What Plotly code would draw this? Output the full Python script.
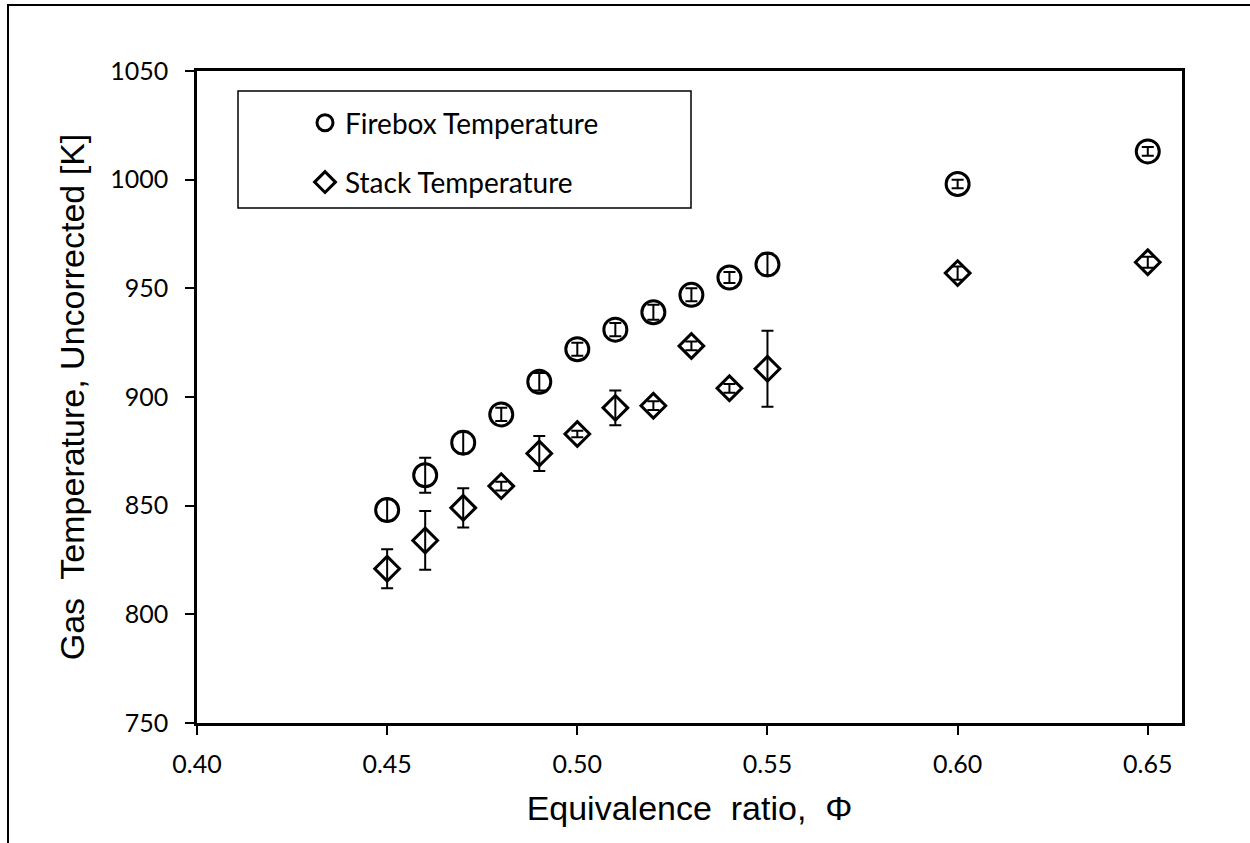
import plotly.graph_objects as go

phi = [0.45, 0.46, 0.47, 0.48, 0.49, 0.50, 0.51, 0.52, 0.53, 0.54, 0.55, 0.60, 0.65]
firebox = [848, 864, 879, 892, 907, 922, 931, 939, 947, 955, 961, 998, 1013]
firebox_err = [5, 8, 5, 3, 4, 3, 3, 3.5, 3, 2.5, 5, 2, 2]
stack = [821, 834, 849, 859, 874, 883, 895, 896, 923.5, 904, 913, 957, 962]
stack_err = [9, 13.5, 9, 2, 8, 1.5, 8, 2, 2, 2, 17.5, 3, 2.5]

x_ticks = [0.40, 0.45, 0.50, 0.55, 0.60, 0.65]
y_ticks = [750, 800, 850, 900, 950, 1000, 1050]

tick_font = dict(family="Lato, Open Sans, sans-serif", size=25, color="black")
title_font = dict(family="Liberation Sans, Arial, sans-serif", size=34, color="black")

fig = go.Figure()
fig.add_trace(go.Scatter(
    x=phi, y=firebox, mode="markers", name="Firebox Temperature",
    legendgroup="a",
    marker=dict(symbol="circle", size=23, color="rgba(0,0,0,0)",
                line=dict(color="black", width=3)),
    error_y=dict(type="data", array=firebox_err, visible=True,
                 color="black", thickness=2, width=6),
))
fig.add_trace(go.Scatter(
    x=phi, y=stack, mode="markers", name="Stack Temperature",
    legendgroup="b",
    marker=dict(symbol="diamond", size=19, color="rgba(0,0,0,0)",
                line=dict(color="black", width=3)),
    error_y=dict(type="data", array=stack_err, visible=True,
                 color="black", thickness=2, width=6),
))

L, R, T, B = 197, 68, 71, 120
W, H = 1250, 843
pw, ph = W - L - R, H - T - B

def px(x):
    return (x - L) / pw

def py(y):
    return 1 - (y - T) / ph

fig.update_layout(
    width=W, height=H,
    margin=dict(l=L, r=R, t=T, b=B),
    paper_bgcolor="white", plot_bgcolor="white",
    showlegend=True,
    legend=dict(
        x=px(305), y=py(98), xanchor="left", yanchor="top",
        bgcolor="rgba(0,0,0,0)", borderwidth=0,
        font=dict(family="Lato, Open Sans, sans-serif", size=28, color="black"),
        tracegroupgap=20,
    ),
    shapes=[
        dict(type="rect", xref="paper", yref="paper",
             x0=px(238), x1=px(691), y0=py(208), y1=py(91),
             line=dict(color="black", width=1.5), fillcolor="rgba(0,0,0,0)"),
        dict(type="rect", xref="paper", yref="paper",
             x0=px(8), x1=px(1300), y0=py(900), y1=py(5),
             line=dict(color="black", width=2), fillcolor="rgba(0,0,0,0)"),
    ],
)

fig.update_xaxes(
    range=[0.40, 0.659], tickvals=x_ticks, ticktext=[f"{v:.2f}" for v in x_ticks],
    showgrid=False, zeroline=False,
    showline=True, linecolor="black", linewidth=2.5, mirror=True,
    ticks="outside", ticklen=9, tickwidth=1.5, tickcolor="black",
    tickfont=tick_font, ticklabelstandoff=8,
    title=dict(text="Equivalence\u00a0 ratio,\u00a0 Φ", font=title_font, standoff=20),
)
fig.update_yaxes(
    range=[750, 1050], tickvals=y_ticks,
    showgrid=False, zeroline=False,
    showline=True, linecolor="black", linewidth=2.5, mirror=True,
    ticks="outside", ticklen=9, tickwidth=1.5, tickcolor="black",
    tickfont=tick_font, ticklabelstandoff=12,
    title=dict(text="Gas\u00a0 Temperature, Uncorrected [K]", font=title_font, standoff=16),
)

fig.write_html("out.html")
